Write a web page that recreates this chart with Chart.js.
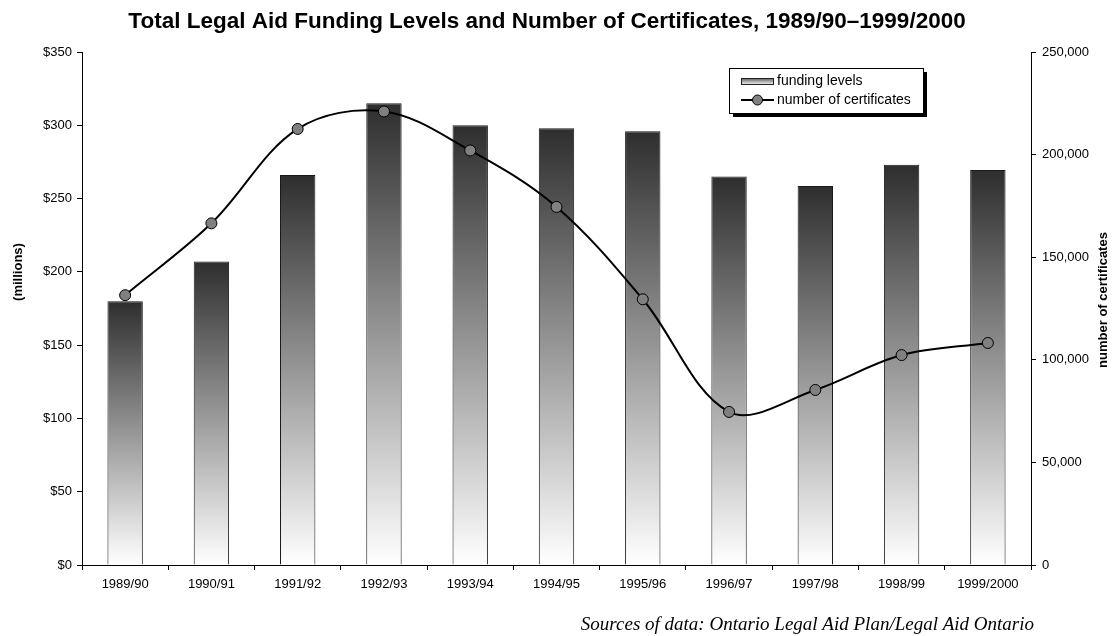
<!DOCTYPE html>
<html>
<head>
<meta charset="utf-8">
<script src="https://cdn.jsdelivr.net/npm/chart.js@4.4.0/dist/chart.umd.min.js"></script>
<style>
  html, body { margin: 0; padding: 0; background: #fff; }
  #wrap { width: 1117px; height: 636px; position: relative; }
</style>
</head>
<body>
<div id="wrap"><canvas id="chart" width="1117" height="636"></canvas></div>
<script>
// Data
const years = ['1989/90', '1990/91', '1991/92', '1992/93', '1993/94', '1994/95',
               '1995/96', '1996/97', '1997/98', '1998/99', '1999/2000'];
const funding = [180, 207, 266, 315, 300, 298, 296, 265, 258.5, 273, 269.5]; // $ millions
const certificates = [131500, 166500, 212500, 221000, 202000, 174500,
                      129500, 74600, 85300, 102300, 108200];
const fundingTicks = [0, 50, 100, 150, 200, 250, 300, 350];
const certTicks = [0, 50000, 100000, 150000, 200000, 250000];

const chartTitle = 'Total Legal Aid Funding Levels and Number of Certificates, 1989/90\u20131999/2000';
const leftTitle = '(millions)';
const rightTitle = 'number of certificates';
const sourceNote = 'Sources of data: Ontario Legal Aid Plan/Legal Aid Ontario';

const SANS = "'Liberation Sans', Arial, sans-serif";
const SERIF = "'Liberation Serif', 'Times New Roman', serif";

Chart.defaults.font.family = SANS;
Chart.defaults.color = '#000';

// bar fill: dark at top, fading to white at the base
function barGradient(context) {
    const chart = context.chart;
    if (!chart.chartArea || context.type !== 'data') return '#888';
    const yScale = chart.scales.y;
    const top = yScale.getPixelForValue(funding[context.dataIndex]);
    const bottom = yScale.getPixelForValue(0);
    const g = chart.ctx.createLinearGradient(0, top, 0, bottom);
    g.addColorStop(0, '#2e2e2e');
    g.addColorStop(1, '#ffffff');
    return g;
}

// title, axis titles, legend box and source line
const decorations = {
    id: 'decorations',
    afterDraw(chart) {
        const c = chart.ctx;
        c.save();
        c.fillStyle = '#000';

        // title
        c.font = 'bold 22.5px ' + SANS;
        c.textAlign = 'center';
        c.textBaseline = 'middle';
        c.fillText(chartTitle, 547, 22);

        // axis titles (both read bottom to top)
        c.font = 'bold 13px ' + SANS;
        c.save();
        c.translate(18, 272);
        c.rotate(-Math.PI / 2);
        c.fillText(leftTitle, 0, 0);
        c.restore();
        c.save();
        c.translate(1103, 300);
        c.rotate(-Math.PI / 2);
        c.fillText(rightTitle, 0, 0);
        c.restore();

        // legend
        const lx = 729, ly = 68, lw = 194, lh = 45;
        c.fillStyle = '#000';
        c.fillRect(lx + 4, ly + 4, lw, lh);
        c.fillStyle = '#fff';
        c.fillRect(lx, ly, lw, lh);
        c.strokeStyle = '#000';
        c.lineWidth = 1;
        c.strokeRect(lx + 0.5, ly + 0.5, lw, lh);

        const sw = c.createLinearGradient(0, ly + 10, 0, ly + 17);
        sw.addColorStop(0, '#555');
        sw.addColorStop(1, '#fff');
        c.fillStyle = sw;
        c.fillRect(lx + 12, ly + 10, 32, 6);
        c.strokeStyle = '#222';
        c.strokeRect(lx + 12.5, ly + 10.5, 32, 6);

        c.beginPath();
        c.moveTo(lx + 12, ly + 32);
        c.lineTo(lx + 45, ly + 32);
        c.lineWidth = 2;
        c.strokeStyle = '#000';
        c.stroke();
        c.beginPath();
        c.arc(lx + 28.5, ly + 32, 5, 0, Math.PI * 2);
        c.fillStyle = '#808080';
        c.fill();
        c.lineWidth = 1;
        c.stroke();

        c.fillStyle = '#000';
        c.font = '14px ' + SANS;
        c.textAlign = 'left';
        c.fillText(chart.data.datasets[0].label, lx + 48, ly + 13);
        c.fillText(chart.data.datasets[1].label, lx + 48, ly + 32);

        // source
        c.font = 'italic 19px ' + SERIF;
        c.textAlign = 'right';
        c.textBaseline = 'alphabetic';
        c.fillText(sourceNote, 1034, 630);
        c.restore();
    }
};

const chart = new Chart(document.getElementById('chart'), {
    data: {
        labels: years,
        datasets: [
            {
                type: 'bar',
                label: 'funding levels',
                data: funding,
                yAxisID: 'y',
                backgroundColor: barGradient,
                borderColor: '#1a1a1a',
                borderWidth: 1,
                borderSkipped: 'bottom',
                categoryPercentage: 1,
                barPercentage: 0.41,
                order: 1
            },
            {
                type: 'line',
                label: 'number of certificates',
                data: certificates,
                yAxisID: 'y2',
                borderColor: '#000',
                borderWidth: 2,
                tension: 0.35,
                pointRadius: 5.5,
                pointBackgroundColor: '#808080',
                pointBorderColor: '#000',
                pointBorderWidth: 1,
                order: 0
            }
        ]
    },
    options: {
        responsive: false,
        animation: false,
        layout: { padding: { top: 52, left: 0, right: 0, bottom: 0 } },
        plugins: {
            legend: { display: false },
            tooltip: { enabled: false }
        },
        scales: {
            x: {
                grid: { drawOnChartArea: false, offset: true, tickLength: 5, color: '#000' },
                border: { color: '#000', width: 1 },
                ticks: { font: { size: 13 }, padding: 7, maxRotation: 0, autoSkip: false },
                afterFit: s => { s.height = 71; }
            },
            y: {
                position: 'left',
                min: 0,
                max: 350,
                afterBuildTicks: s => { s.ticks = fundingTicks.map(v => ({ value: v })); },
                grid: { drawOnChartArea: false, tickLength: 5, color: '#000' },
                border: { color: '#000', width: 1 },
                ticks: { font: { size: 13 }, padding: 5, callback: v => '$' + v },
                afterFit: s => { s.width = 82; }
            },
            y2: {
                position: 'right',
                min: 0,
                max: 250000,
                afterBuildTicks: s => { s.ticks = certTicks.map(v => ({ value: v })); },
                grid: { drawOnChartArea: false, tickLength: 5, color: '#000' },
                border: { color: '#000', width: 1 },
                ticks: { font: { size: 13 }, padding: 6, callback: v => v.toLocaleString('en-US') },
                afterFit: s => { s.width = 86; }
            }
        }
    },
    plugins: [decorations]
});
</script>
</body>
</html>
